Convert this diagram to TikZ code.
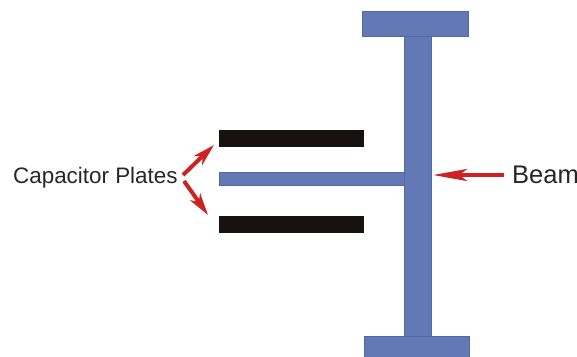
\documentclass[tikz,border=0pt]{standalone}
\usepackage{fontspec}
\setmainfont{Liberation Sans}
\usetikzlibrary{arrows.meta}
\definecolor{beamblue}{HTML}{6379B5}
\definecolor{beamedge}{HTML}{56689F}
\definecolor{platek}{HTML}{17110F}
\definecolor{arrowred}{HTML}{CC2222}
\tikzset{
  px/.style={x=1pt,y=-1pt},
  part/.style={draw=none,inner sep=0pt,outer sep=0pt,anchor=north west},
  beampart/.style={part,fill=beamblue,draw=beamedge,line width=0.5pt},
  platepart/.style={part,fill=platek},
  callout/.style={draw=arrowred,line width=4pt,-{Stealth[length=22pt,width=12pt,inset=6pt]}},
  calloutlong/.style={draw=arrowred,line width=4.5pt,-{Stealth[length=34pt,width=12pt,inset=8pt]}},
  lbl/.style={inner sep=0pt,text=black!85}
}
\begin{document}
\begin{tikzpicture}[px]
\useasboundingbox (0,0) rectangle (577,356);
\clip (0,0) rectangle (577,356);
\node[beampart,minimum width=27pt,minimum height=300pt] (web) at (404,36) {};
\node[beampart,minimum width=106pt,minimum height=25pt] (topflange) at (362,11) {};
\node[beampart,minimum width=105pt,minimum height=22pt] (botflange) at (364,336) {};
\node[beampart,minimum width=185pt,minimum height=13pt] (finger) at (219,172) {};
\node[platepart,minimum width=145pt,minimum height=17pt] (plateA) at (219,130) {};
\node[platepart,minimum width=145pt,minimum height=17pt] (plateB) at (219,216) {};
\node[lbl,anchor=base west,font=\fontsize{22.4pt}{26pt}\selectfont] (caplabel) at (13,183) {Capacitor Plates};
\node[lbl,anchor=base west,font=\fontsize{25.5pt}{30pt}\selectfont] (beamlabel) at (512,183) {Beam};
\coordinate (capUp) at (183,175);
\coordinate (capUpEnd) at (214,145);
\coordinate (capDown) at (184,181);
\coordinate (capDownEnd) at (208,215);
\coordinate (beamTail) at (504,175);
\coordinate (beamTip) at (433,175);
\draw[callout] (capUp) -- (capUpEnd);
\draw[callout] (capDown) -- (capDownEnd);
\draw[calloutlong] (beamTail) -- (beamTip);
\end{tikzpicture}
\end{document}
